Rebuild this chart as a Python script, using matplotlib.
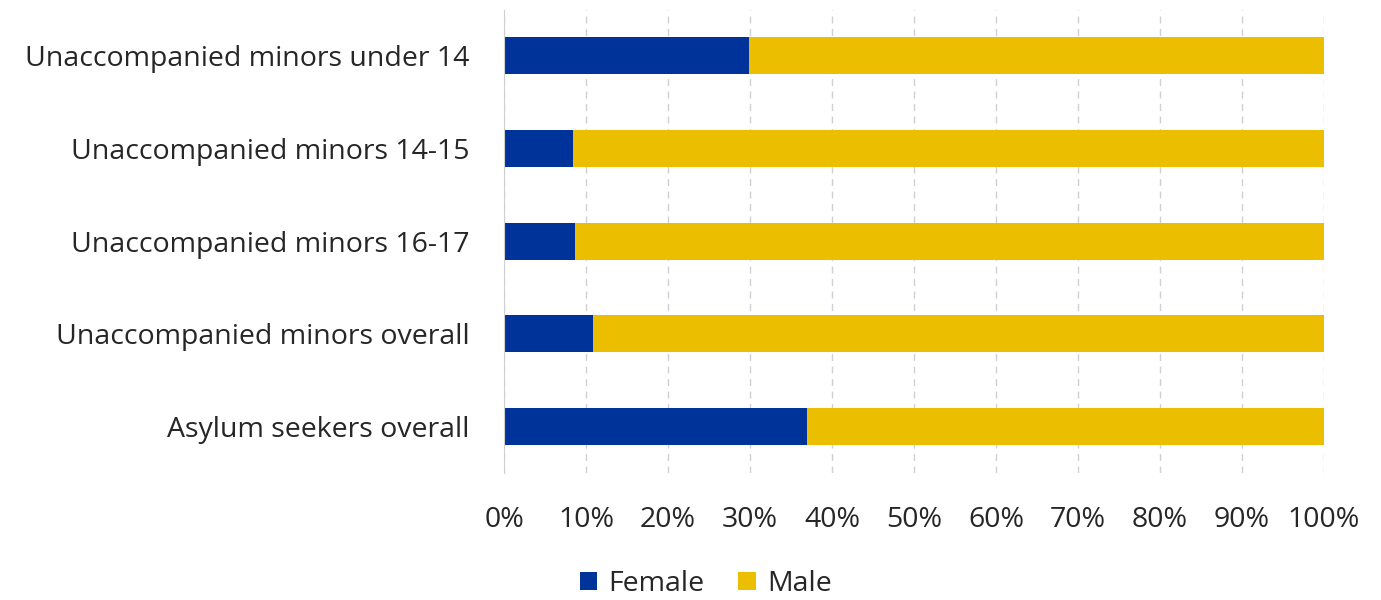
import numpy as np
import matplotlib
matplotlib.use('Agg')
import matplotlib.pyplot as plt
from matplotlib.ticker import PercentFormatter

plt.rcParams['font.family'] = ['Open Sans', 'DejaVu Sans']

# Data (share of each group, %)
categories = ['Unaccompanied minors under 14',
              'Unaccompanied minors 14-15',
              'Unaccompanied minors 16-17',
              'Unaccompanied minors overall',
              'Asylum seekers overall']
female = np.array([29.9, 8.4, 8.7, 10.9, 36.9])
male = 100 - female

blue = '#003399'
yellow = '#EBBE00'

fig = plt.figure(figsize=(13.81, 6), dpi=100)
ax = fig.add_axes([0.365, 0.212, 0.5937, 0.772])

y = np.arange(len(categories))
ax.barh(y, female, height=0.4, color=blue, label='Female', zorder=3)
ax.barh(y, male, left=female, height=0.4, color=yellow, label='Male', zorder=3)

ax.set_ylim(len(categories) - 0.5, -0.5)
ax.set_xlim(0, 100)
ax.set_yticks(y)
ax.set_yticklabels(categories, fontsize=20.5, color='#262626')
ax.set_xticks(np.arange(0, 101, 10))
ax.xaxis.set_major_formatter(PercentFormatter(decimals=0))
ax.tick_params(axis='x', labelsize=20.5, colors='#262626', length=0, pad=24)
ax.tick_params(axis='y', length=0, pad=25)

ax.grid(axis='x', color='#d0d0d0', linestyle=(0, (5, 4)), linewidth=1, zorder=0)
for s in ['top', 'right', 'bottom']:
    ax.spines[s].set_visible(False)
ax.spines['left'].set_color('#d0d0d0')
ax.spines['left'].set_zorder(4)

fig.legend(loc='center', bbox_to_anchor=(0.511, 0.027), ncol=2, frameon=False,
           fontsize=20.5, handlelength=0.6, handleheight=0.6, handletextpad=0.4,
           columnspacing=1.2, labelcolor='#262626')

fig.savefig('out.png', dpi=100)
